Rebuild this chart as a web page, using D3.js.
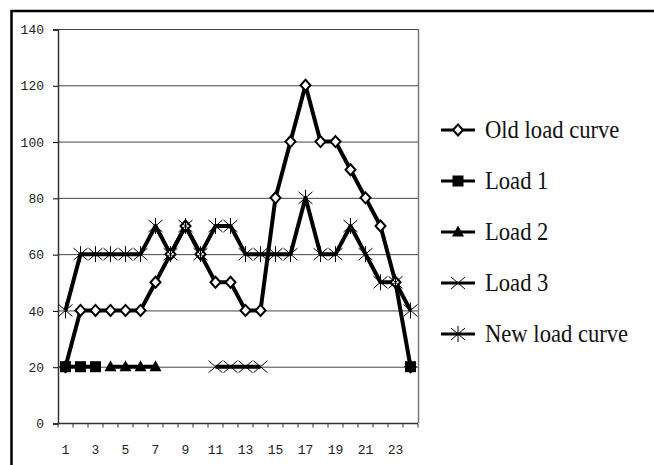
<!DOCTYPE html>
<html>
<head>
<meta charset="utf-8">
<script src="https://cdn.jsdelivr.net/npm/d3@7"></script>
<style>
  body { margin: 0; background: #fff; }
  svg { display: block; }
</style>
</head>
<body>
<div id="chart"></div>
<script>
// Hours on the x axis
const hours = d3.range(1, 25);
const xTickLabels = [1, 3, 5, 7, 9, 11, 13, 15, 17, 19, 21, 23];
const yTicks = [0, 20, 40, 60, 80, 100, 120, 140];

// Series values (null = no value for that hour)
const oldLoad = [20, 40, 40, 40, 40, 40, 50, 60, 70, 60, 50, 50, 40, 40, 80, 100, 120, 100, 100, 90, 80, 70, 50, 20];
const load1 = [20, 20, 20, null, null, null, null, null, null, null, null, null, null, null, null, null, null, null, null, null, null, null, null, 20];
const load2 = [null, null, null, 20, 20, 20, 20, null, null, null, null, null, null, null, null, null, null, null, null, null, null, null, null, null];
const load3 = [null, null, null, null, null, null, null, null, null, null, 20, 20, 20, 20, null, null, null, null, null, null, null, null, null, null];
const newLoad = [40, 60, 60, 60, 60, 60, 70, 60, 70, 60, 70, 70, 60, 60, 60, 60, 80, 60, 60, 70, 60, 50, 50, 40];

const seriesNames = ["Old load curve", "Load 1", "Load 2", "Load 3", "New load curve"];
const seriesValues = [oldLoad, load1, load2, load3, newLoad];
const seriesMarkers = ["diamond", "square", "triangle", "cross", "asterisk"];

const width = 654;
const height = 465;
const margin = { top: 29, right: 236, bottom: 42, left: 58 };

const svg = d3.select("#chart")
  .append("svg")
  .attr("width", width)
  .attr("height", height);

// Outer frame (runs off the right and bottom of the picture)
svg.append("rect")
  .attr("x", 11.5)
  .attr("y", 11)
  .attr("width", 700)
  .attr("height", 500)
  .attr("fill", "none")
  .attr("stroke", "#000")
  .attr("stroke-width", 2.5);

const x = d3.scaleBand()
  .domain(hours)
  .range([margin.left, width - margin.right]);

const y = d3.scaleLinear()
  .domain([0, 140])
  .range([height - margin.bottom, margin.top]);

// Horizontal gridlines
svg.append("g")
  .selectAll("line")
  .data(yTicks.slice(1))
  .enter()
  .append("line")
  .attr("x1", margin.left)
  .attr("x2", width - margin.right)
  .attr("y1", d => y(d) + 0.5)
  .attr("y2", d => y(d) + 0.5)
  .attr("stroke", "#444")
  .attr("stroke-width", 1);

// Right edge of plot area
svg.append("line")
  .attr("x1", width - margin.right + 0.5)
  .attr("x2", width - margin.right + 0.5)
  .attr("y1", margin.top)
  .attr("y2", y(0))
  .attr("stroke", "#777")
  .attr("stroke-width", 1.5);

// Y axis
const yAxis = svg.append("g")
  .attr("transform", `translate(${margin.left},0.5)`)
  .call(d3.axisLeft(y).tickValues(yTicks).tickSize(5).tickPadding(9));
yAxis.select(".domain").attr("stroke", "#333").attr("stroke-width", 1.5);
yAxis.selectAll("text")
  .attr("font-family", "Liberation Mono")
  .attr("font-size", "13px")
  .attr("fill", "#222");

// X axis: ticks at band boundaries, labels at odd hours
const xAxisG = svg.append("g")
  .attr("transform", `translate(0,${y(0) + 0.5})`);
xAxisG.append("line")
  .attr("x1", margin.left)
  .attr("x2", width - margin.right)
  .attr("stroke", "#333")
  .attr("stroke-width", 1.5);
xAxisG.selectAll(".xtick")
  .data(hours.concat([25]))
  .enter()
  .append("line")
  .attr("class", "xtick")
  .attr("x1", d => d <= 24 ? x(d) : x(24) + x.bandwidth())
  .attr("x2", d => d <= 24 ? x(d) : x(24) + x.bandwidth())
  .attr("y1", 0)
  .attr("y2", 4)
  .attr("stroke", "#333");
xAxisG.selectAll(".xlabel")
  .data(xTickLabels)
  .enter()
  .append("text")
  .attr("class", "xlabel")
  .attr("x", d => x(d) + x.bandwidth() / 2)
  .attr("y", 30)
  .attr("text-anchor", "middle")
  .attr("font-family", "Liberation Mono")
  .attr("font-size", "13px")
  .attr("fill", "#222")
  .text(d => d);

// Marker drawing
function drawMarker(g, type, cx, cy) {
  if (type === "diamond") {
    g.append("path")
      .attr("d", `M${cx},${cy - 5.5}L${cx + 5},${cy}L${cx},${cy + 5.5}L${cx - 5},${cy}Z`)
      .attr("fill", "#fff")
      .attr("stroke", "#000")
      .attr("stroke-width", 2);
  } else if (type === "square") {
    g.append("rect")
      .attr("x", cx - 5.5).attr("y", cy - 5.5)
      .attr("width", 11).attr("height", 11)
      .attr("fill", "#000");
  } else if (type === "triangle") {
    g.append("path")
      .attr("d", `M${cx},${cy - 6.5}L${cx + 6},${cy + 4.5}L${cx - 6},${cy + 4.5}Z`)
      .attr("fill", "#000");
  } else if (type === "cross") {
    g.append("path")
      .attr("d", `M${cx - 7},${cy - 6}L${cx + 7},${cy + 6}M${cx - 7},${cy + 6}L${cx + 7},${cy - 6}`)
      .attr("stroke", "#000")
      .attr("stroke-width", 1);
  } else if (type === "asterisk") {
    g.append("path")
      .attr("d", `M${cx - 7},${cy - 6}L${cx + 7},${cy + 6}M${cx - 7},${cy + 6}L${cx + 7},${cy - 6}M${cx},${cy - 8}L${cx},${cy + 8}`)
      .attr("stroke", "#000")
      .attr("stroke-width", 1);
  }
}

const line = d3.line()
  .defined(d => d.v != null)
  .x(d => x(d.h) + x.bandwidth() / 2)
  .y(d => y(d.v));

// Draw series lines
seriesValues.forEach((vals, si) => {
  const pts = vals.map((v, i) => ({ h: hours[i], v: v }));
  svg.append("path")
    .datum(pts)
    .attr("fill", "none")
    .attr("stroke", "#000")
    .attr("stroke-width", 4)
    .attr("stroke-linejoin", "round")
    .attr("d", line);
});

// Draw markers on top
seriesValues.forEach((vals, si) => {
  const g = svg.append("g");
  vals.forEach((v, i) => {
    if (v == null) return;
    drawMarker(g, seriesMarkers[si], x(hours[i]) + x.bandwidth() / 2, y(v));
  });
});

// Legend
const legend = svg.append("g");
seriesNames.forEach((name, i) => {
  const ly = 130 + i * 51;
  legend.append("line")
    .attr("x1", 441).attr("x2", 475)
    .attr("y1", ly).attr("y2", ly)
    .attr("stroke", "#000")
    .attr("stroke-width", 3);
  drawMarker(legend, seriesMarkers[i], 458, ly);
  legend.append("text")
    .attr("transform", `translate(485,${ly + 8}) scale(0.87,1)`)
    .attr("font-family", "Liberation Serif")
    .attr("font-size", "26px")
    .attr("fill", "#111")
    .text(name);
});
</script>
</body>
</html>
